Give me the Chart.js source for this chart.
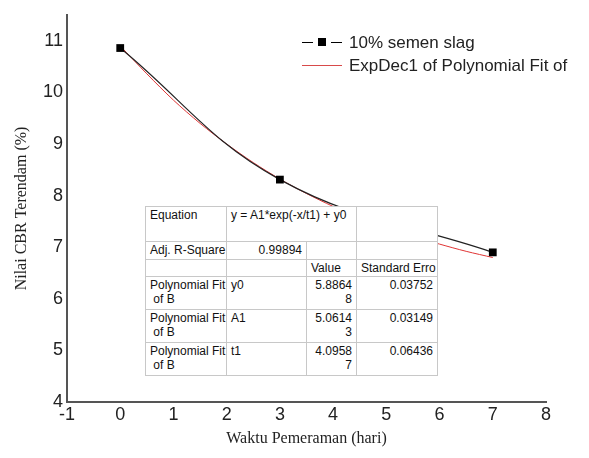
<!DOCTYPE html>
<html>
<head>
<meta charset="utf-8">
<script src="https://cdn.jsdelivr.net/npm/chart.js@4.4.1/dist/chart.umd.min.js"></script>
<style>
	body { margin: 0; background: #fff; }
	#wrap { position: relative; width: 589px; height: 458px; }
	#legend { position: absolute; left: 302px; top: 31px; font: 17px "Liberation Sans", Arial, sans-serif; color: #222; }
	#legend .row { height: 23px; line-height: 23px; white-space: nowrap; }
	#legend .mk { display: inline-block; position: relative; width: 40px; height: 23px; vertical-align: top; margin-right: 7px; }
	#legend .ln { position: absolute; top: 11px; height: 1px; }
	#legend .sq { position: absolute; left: 16px; top: 7px; width: 8px; height: 8px; background: #000; }
	#tbl { position: absolute; left: 145px; top: 206px; width: 292px; border-collapse: collapse; table-layout: fixed;
		background: #fff; border: 1px solid #555; font: 12px "Liberation Sans", Arial, sans-serif; color: #111; }
	#tbl td { border: 1px solid #c8c8c8; padding: 1px 4px 0 4px; vertical-align: top; line-height: 14px; overflow: hidden; white-space: nowrap; }
	#tbl td.r { text-align: right; }
</style>
</head>
<body>
<div id="wrap">
	<canvas id="myChart" width="589" height="458"></canvas>
	<div id="legend">
		<div class="row"><span class="mk"><span class="ln" style="left:0;width:11px;background:#000"></span><span class="sq"></span><span class="ln" style="left:29px;width:11px;background:#000"></span></span>10% semen slag</div>
		<div class="row"><span class="mk"><span class="ln" style="left:0;width:40px;background:#d84a4a"></span></span>ExpDec1 of Polynomial Fit of</div>
	</div>
	<table id="tbl">
		<colgroup><col style="width:81px"><col style="width:80px"><col style="width:50px"><col style="width:81px"></colgroup>
		<tr style="height:35px"><td>Equation</td><td colspan="2">y = A1*exp(-x/t1) + y0</td><td></td></tr>
		<tr style="height:18px"><td>Adj. R-Square</td><td class="r">0.99894</td><td></td><td></td></tr>
		<tr style="height:17px"><td></td><td></td><td>Value</td><td>Standard Erro</td></tr>
		<tr style="height:33px"><td>Polynomial Fit<br>&nbsp;of B</td><td>y0</td><td class="r">5.8864<br>8</td><td class="r">0.03752</td></tr>
		<tr style="height:33px"><td>Polynomial Fit<br>&nbsp;of B</td><td>A1</td><td class="r">5.0614<br>3</td><td class="r">0.03149</td></tr>
		<tr style="height:33px"><td>Polynomial Fit<br>&nbsp;of B</td><td>t1</td><td class="r">4.0958<br>7</td><td class="r">0.06436</td></tr>
	</table>
</div>
<script>
	// data
	var waktu = [0, 3, 7];
	var cbr = [10.86, 8.31, 6.9];

	var fitX = [0, 0.5, 1, 1.5, 2, 2.5, 3, 3.5, 4, 4.5, 5, 5.5, 6, 6.5, 7];
	var fitY = [10.9, 10.36, 9.85, 9.4, 9.0, 8.64, 8.32, 8.04, 7.79, 7.57, 7.38, 7.21, 7.06, 6.92, 6.8];

	function toXY(xs, ys){
		var out = [];
		for(var i=0; i<xs.length; i++){
			out.push({x: xs[i], y: ys[i]});
		}
		return out;
	}

	var tickFont = {family: "'Liberation Sans', Arial, sans-serif", size: 18};
	var titleFont = {family: "'Liberation Serif', 'Times New Roman', serif", size: 16};

	var chart = document.getElementById("myChart").getContext("2d");
	var myChart = new Chart(chart, {
		type: 'scatter',
		data: {
			datasets: [{
				label: "10% semen slag",
				data: toXY(waktu, cbr),
				showLine: true,
				borderColor: "#222",
				borderWidth: 1.2,
				backgroundColor: "#000",
				pointStyle: 'rect',
				pointRadius: 5.5,
				pointBorderWidth: 0,
				tension: 0.4,
				order: 1
			}, {
				label: "ExpDec1 of Polynomial Fit of",
				data: toXY(fitX, fitY),
				showLine: true,
				borderColor: "#e03535",
				borderWidth: 1,
				pointRadius: 0,
				tension: 0.3,
				order: 2
			}]
		},
		options: {
			responsive: false,
			animation: false,
			layout: { padding: {left: 4, right: 43, top: 15, bottom: 6} },
			plugins: { legend: { display: false }, tooltip: { enabled: false } },
			scales: {
				x: {
					type: 'linear', min: -1, max: 8,
					ticks: { stepSize: 1, font: tickFont, color: "#222", padding: 2, maxRotation: 0 },
					grid: { display: false, drawTicks: false },
					border: { display: true, color: "#555", width: 2 },
					title: { display: true, text: "Waktu Pemeraman (hari)", font: titleFont, color: "#222", padding: {top: 4, bottom: 4} },
					afterFit: function(scale){ scale.height = 50; }
				},
				y: {
					type: 'linear', min: 4, max: 11.5,
					ticks: { stepSize: 1, font: tickFont, color: "#222", padding: 4 },
					grid: { display: false, drawTicks: false },
					border: { display: true, color: "#555", width: 2 },
					title: { display: true, text: "Nilai CBR Terendam (%)", font: titleFont, color: "#222", padding: {top: 8, bottom: 0} },
					afterBuildTicks: function(scale){
						scale.ticks = scale.ticks.filter(function(t){ return Number.isInteger(t.value); });
					},
					afterFit: function(scale){ scale.width = 63; }
				}
			}
		}
	});
</script>
</body>
</html>
